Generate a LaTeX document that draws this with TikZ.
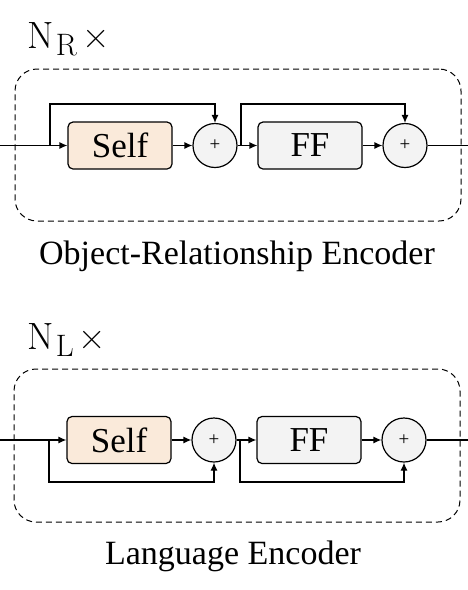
\documentclass[tikz,border=0pt]{standalone}
\usepackage{fontspec}
\setmainfont{Liberation Serif}
\newfontfamily\lmfont{Latin Modern Roman}
\usetikzlibrary{arrows.meta}
\definecolor{selfcol}{RGB}{250,234,218}
\definecolor{ffcol}{RGB}{243,243,243}
\newcommand{\repslabel}[1]{{\lmfont N\hspace{2pt}\raisebox{-0.2em}{\fontsize{31}{33}\selectfont #1}\hspace{5pt}×}}
\begin{document}
\begin{tikzpicture}[x=1pt,y=-1pt,
  line width=1.2pt,
  arr/.style={-{Latex[length=8pt,width=7pt]}},
  blockbox/.style={draw, rounded corners=5pt, minimum width=104pt, minimum height=47pt, inner sep=0pt, font=\fontsize{35}{40}\selectfont},
  selfbox/.style={blockbox, fill=selfcol},
  ffbox/.style={blockbox, fill=ffcol},
  plusnode/.style={draw, circle, fill=ffcol, minimum size=44pt, inner sep=0pt, font=\fontsize{19}{20}\selectfont},
  outer/.style={draw, dashed, dash pattern=on 6pt off 4pt, line width=1pt, rounded corners=22pt},
  title/.style={font=\fontsize{34}{40}\selectfont},
  reps/.style={anchor=base west, inner sep=0pt, font=\fontsize{38}{42}\selectfont}
]
\useasboundingbox (0,0) rectangle (468,590);

% ---------- top block ----------
\node[reps] (nr) at (27,48) {\repslabel{R}};
\node[outer, minimum width=446pt, minimum height=152pt] (boxR) at (238,145) {};
\node[selfbox] (selfR) at (120,145.5) {Self};
\node[plusnode] (pR1) at (215,145.5) {+};
\node[ffbox] (ffR) at (310,145.5) {FF};
\node[plusnode] (pR2) at (405,145.5) {+};
\coordinate (inR) at (0,145.5);
\coordinate (brR1) at (50,145.5);
\coordinate (brR2) at (241,145.5);
\coordinate (outR) at (468,145.5);
\draw[arr] (inR) -- (selfR.west);
\draw[arr] (brR1) -- ++(0,-41.5) -| (pR1.north);
\draw[arr] (selfR.east) -- (pR1.west);
\draw[arr] (pR1.east) -- (ffR.west);
\draw[arr] (brR2) -- ++(0,-41.5) -| (pR2.north);
\draw[arr] (ffR.east) -- (pR2.west);
\draw (pR2.east) -- (outR);
\node[title] (tR) at (237,256) {Object-Relationship Encoder};

% ---------- bottom block ----------
\node[reps] (nl) at (27,349) {\repslabel{L}};
\node[outer, minimum width=446pt, minimum height=153pt] (boxL) at (237,445.5) {};
\node[selfbox] (selfL) at (119,440) {Self};
\node[plusnode] (pL1) at (214,440) {+};
\node[ffbox] (ffL) at (309,440) {FF};
\node[plusnode] (pL2) at (404,440) {+};
\coordinate (inL) at (0,440);
\coordinate (brL1) at (49,440);
\coordinate (brL2) at (240,440);
\coordinate (outL) at (468,440);
\draw[arr] (inL) -- (selfL.west);
\draw[arr] (brL1) -- ++(0,42) -| (pL1.south);
\draw[arr] (selfL.east) -- (pL1.west);
\draw[arr] (pL1.east) -- (ffL.west);
\draw[arr] (brL2) -- ++(0,42) -| (pL2.south);
\draw[arr] (ffL.east) -- (pL2.west);
\draw (pL2.east) -- (outL);
\node[title] (tL) at (233,556) {Language Encoder};
\end{tikzpicture}
\end{document}
